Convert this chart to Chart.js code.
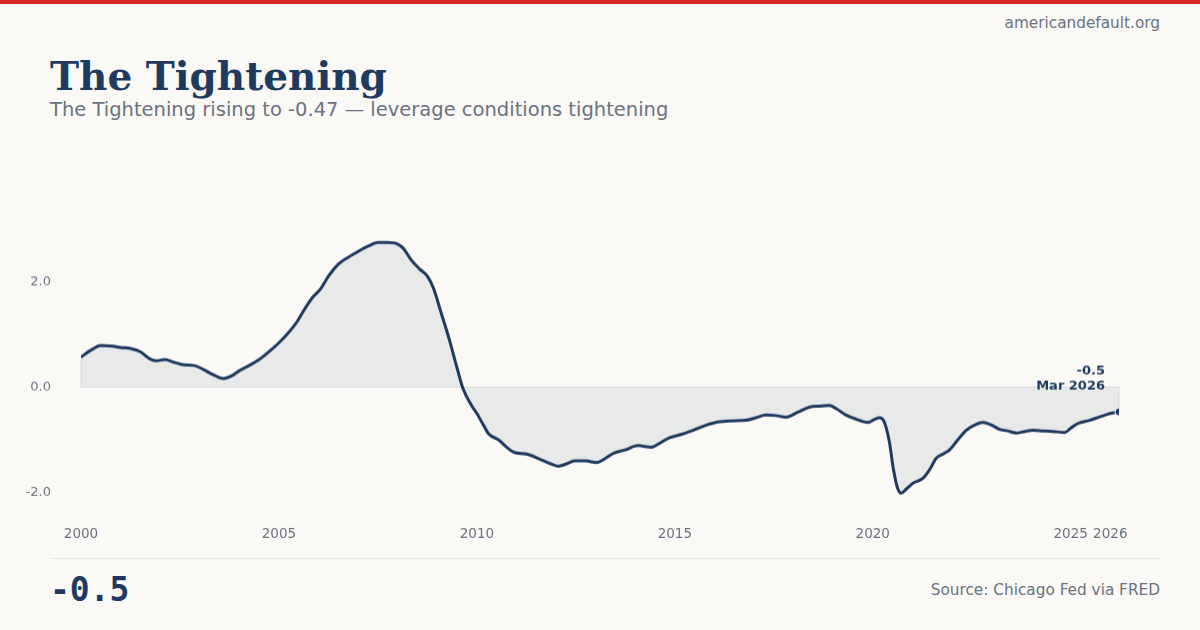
<!DOCTYPE html>
<html>
<head>
<meta charset="utf-8">
<script src="https://cdn.jsdelivr.net/npm/chart.js@4"></script>
<style>
  html, body { margin:0; padding:0; }
  body { width:1200px; height:630px; background:#faf9f6; position:relative; overflow:hidden; font-family:"DejaVu Sans", sans-serif; }
  .bar { position:absolute; left:0; top:0; width:1200px; height:4px; background:#dc2626; }
  .site { position:absolute; right:40px; top:16px; font-size:15.3px; line-height:15px; color:#6b7280; }
  .title { position:absolute; left:50px; top:57px; font-family:"DejaVu Serif", serif; font-weight:bold; font-size:39px; line-height:39px; color:#1e3a5f; }
  .subtitle { position:absolute; left:50px; top:100px; font-size:19.5px; line-height:19.5px; color:#6b7280; }
  .sep { position:absolute; left:50px; top:558px; width:1110px; height:1px; background:#e5e7eb; }
  .big { position:absolute; left:50px; top:573px; font-family:"DejaVu Sans Mono", monospace; font-weight:bold; font-size:33px; line-height:33px; color:#1e3a5f; }
  .source { position:absolute; right:40px; top:583px; font-size:15.3px; line-height:15px; color:#6b7280; }
  #wrap { position:absolute; left:0px; top:150px; width:1150px; height:405.8px; }
</style>
</head>
<body>
<div class="bar"></div>
<div class="site">americandefault.org</div>
<div class="title">The Tightening</div>
<div class="subtitle">The Tightening rising to -0.47 — leverage conditions tightening</div>
<div id="wrap"><canvas id="c"></canvas></div>
<div class="sep"></div>
<div class="big">-0.5</div>
<div class="source">Source: Chicago Fed via FRED</div>
<script>
// Decimal-year dates and index values
const dates = [
  2000.0, 2000.25, 2000.5, 2000.75, 2001.0, 2001.25, 2001.5, 2001.75, 2001.9, 2002.12,
  2002.35, 2002.6, 2002.85, 2003.1, 2003.35, 2003.6, 2003.8, 2004.0, 2004.25, 2004.5,
  2004.75, 2005.0, 2005.25, 2005.45, 2005.65, 2005.85, 2006.05, 2006.25, 2006.5, 2006.75,
  2007.0, 2007.25, 2007.5, 2007.75, 2008.0, 2008.15, 2008.35, 2008.55, 2008.75, 2008.9,
  2009.1, 2009.3, 2009.5, 2009.65, 2009.85, 2010.0, 2010.15, 2010.3, 2010.55, 2010.75,
  2010.95, 2011.25, 2011.6, 2011.85, 2012.05, 2012.25, 2012.47, 2012.75, 2013.02, 2013.25,
  2013.44, 2013.75, 2014.07, 2014.41, 2014.65, 2014.87, 2015.2, 2015.46, 2015.8, 2016.09,
  2016.45, 2016.8, 2017.05, 2017.31, 2017.55, 2017.81, 2018.1, 2018.4, 2018.65, 2018.9,
  2019.08, 2019.3, 2019.55, 2019.88, 2020.05, 2020.18, 2020.3, 2020.42, 2020.52, 2020.62,
  2020.72, 2020.85, 2021.02, 2021.27, 2021.45, 2021.6, 2021.8, 2021.94, 2022.15, 2022.36,
  2022.6, 2022.78, 2023.0, 2023.2, 2023.4, 2023.62, 2023.85, 2024.04, 2024.3, 2024.55,
  2024.85, 2025.0, 2025.18, 2025.48, 2025.75, 2026.0, 2026.22
];
const values = [
  0.57, 0.70, 0.79, 0.78, 0.75, 0.73, 0.67, 0.53, 0.50, 0.52,
  0.47, 0.42, 0.41, 0.33, 0.23, 0.16, 0.21, 0.31, 0.41, 0.52,
  0.67, 0.84, 1.04, 1.23, 1.48, 1.70, 1.86, 2.10, 2.33, 2.46,
  2.57, 2.67, 2.74, 2.74, 2.71, 2.62, 2.40, 2.24, 2.10, 1.88,
  1.40, 0.91, 0.36, -0.03, -0.33, -0.50, -0.70, -0.89, -1.00, -1.14,
  -1.24, -1.27, -1.37, -1.45, -1.50, -1.46, -1.40, -1.40, -1.43, -1.35,
  -1.26, -1.19, -1.11, -1.14, -1.05, -0.96, -0.89, -0.82, -0.72, -0.66,
  -0.64, -0.63, -0.58, -0.53, -0.54, -0.57, -0.48, -0.38, -0.36, -0.35,
  -0.41, -0.52, -0.60, -0.67, -0.61, -0.58, -0.68, -1.04, -1.55, -1.90,
  -2.01, -1.93, -1.82, -1.73, -1.55, -1.35, -1.26, -1.19, -1.00, -0.82,
  -0.71, -0.67, -0.72, -0.80, -0.83, -0.87, -0.84, -0.82, -0.83, -0.84,
  -0.86, -0.78, -0.69, -0.63, -0.56, -0.50, -0.47
];
const xTicks = [2000, 2005, 2010, 2015, 2020, 2025, 2026];
const yTicks = [-2, 0, 2];
const lastLabel = ["-0.5", "Mar 2026"];

const NAVY = '#1e3a5f';
const GREY = '#6b7280';
const n = values.length;
const pts = dates.map((d, i) => ({ x: d, y: values[i] }));

// Thin outline along the base of the filled area (edges + zero line)
const fillEdge = {
  id: 'fillEdge',
  beforeDatasetsDraw(chart) {
    const xs = chart.scales.x, ys = chart.scales.y;
    const ctx = chart.ctx;
    const x0 = xs.getPixelForValue(dates[0]), x1 = xs.getPixelForValue(dates[n - 1]);
    const z = ys.getPixelForValue(0);
    ctx.save();
    ctx.strokeStyle = '#dfe1e4';
    ctx.lineWidth = 1;
    ctx.beginPath();
    ctx.moveTo(x0, ys.getPixelForValue(values[0]));
    ctx.lineTo(x0, z);
    ctx.lineTo(x1, z);
    ctx.lineTo(x1, ys.getPixelForValue(values[n - 1]));
    ctx.stroke();
    ctx.restore();
  }
};

const endLabel = {
  id: 'endLabel',
  afterDatasetsDraw(chart) {
    const meta = chart.getDatasetMeta(0);
    const p = meta.data[n - 1];
    const ctx = chart.ctx;
    ctx.save();
    ctx.font = 'bold 13px "DejaVu Sans", sans-serif';
    ctx.fillStyle = NAVY;
    ctx.textAlign = 'right';
    ctx.textBaseline = 'middle';
    ctx.fillText(lastLabel[0], p.x - 14, p.y - 41);
    ctx.fillText(lastLabel[1], p.x - 14, p.y - 26);
    ctx.restore();
  }
};

new Chart(document.getElementById('c'), {
  type: 'line',
  data: {
    datasets: [{
      data: pts,
      borderColor: NAVY,
      borderWidth: 3,
      backgroundColor: 'rgba(30,58,95,0.08)',
      fill: 'origin',
      cubicInterpolationMode: 'monotone',
      pointRadius: values.map((v, i) => i === n - 1 ? 4 : 0),
      pointBackgroundColor: NAVY,
      pointBorderColor: '#faf9f6',
      pointBorderWidth: 1,
      pointHoverRadius: 0
    }]
  },
  plugins: [fillEdge, endLabel],
  options: {
    responsive: true,
    maintainAspectRatio: false,
    animation: false,
    layout: { padding: { top: 52.3, right: 31, left: 0, bottom: 0 } },
    plugins: { legend: { display: false }, tooltip: { enabled: false } },
    scales: {
      x: {
        type: 'linear',
        min: dates[0],
        max: dates[n - 1],
        afterBuildTicks(axis) { axis.ticks = xTicks.map(v => ({ value: v })); },
        afterFit(axis) { axis.height = 32.5; },
        border: { display: false },
        grid: { display: false, drawTicks: false },
        ticks: {
          color: GREY, padding: 7, maxRotation: 0, autoSkip: false,
          font: { family: '"DejaVu Sans", sans-serif', size: 13.5 },
          callback: v => String(v)
        }
      },
      y: {
        min: -2.5,
        max: 3.5,
        afterBuildTicks(axis) { axis.ticks = yTicks.map(v => ({ value: v })); },
        afterFit(axis) { axis.width = 81; },
        border: { display: false },
        grid: { display: false, drawTicks: false },
        ticks: {
          color: GREY, padding: 30,
          font: { family: '"DejaVu Sans", sans-serif', size: 13 },
          callback: v => v.toFixed(1)
        }
      }
    }
  }
});
</script>
</body>
</html>
